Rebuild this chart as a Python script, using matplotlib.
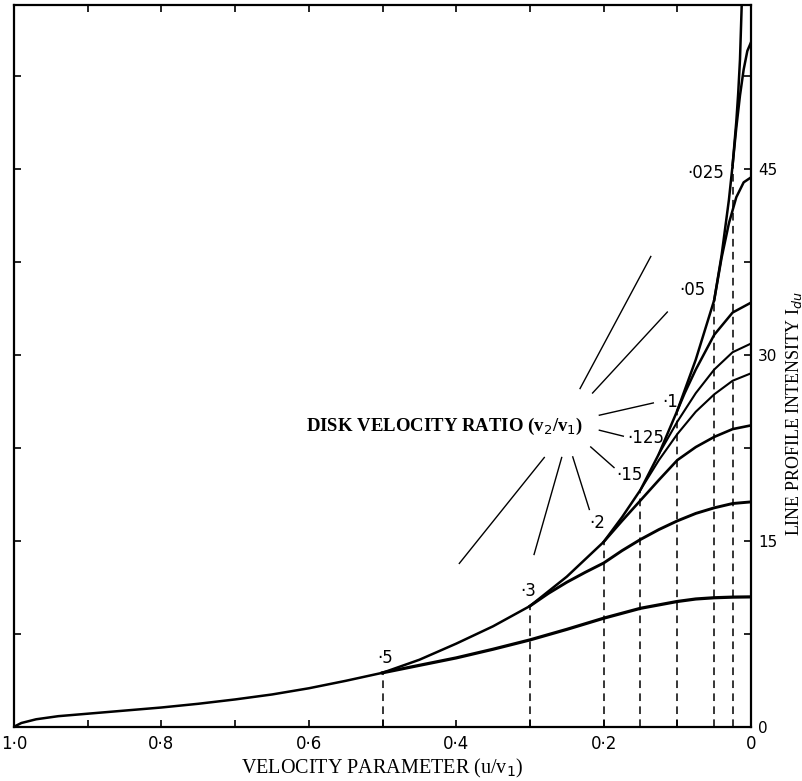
import matplotlib.pyplot as plt
import matplotlib.ticker as ticker

plt.rcParams['font.family'] = 'DejaVu Sans'

# common envelope: intensity vs velocity parameter u/v1
env_u = [1.0, 0.99, 0.97, 0.94, 0.9, 0.85, 0.8, 0.75, 0.7, 0.65, 0.6, 0.55, 0.5,
         0.45, 0.4, 0.35, 0.3, 0.25, 0.2, 0.175, 0.15, 0.125, 0.1, 0.075, 0.05,
         0.04, 0.03, 0.025, 0.02, 0.0175, 0.015, 0.0125]
env_i = [0.0, 0.3, 0.6, 0.85, 1.05, 1.3, 1.55, 1.85, 2.2, 2.6, 3.1, 3.7, 4.35,
         5.4, 6.7, 8.1, 9.73, 12.1, 14.9, 16.9, 19.1, 22.0, 25.5, 29.6, 34.4,
         38.0, 42.5, 45.3, 48.8, 51.0, 53.8, 58.5]

# branches for each disk velocity ratio v2/v1
ratios = [0.5, 0.3, 0.2, 0.15, 0.125, 0.1, 0.05, 0.025]
ratio_text = ['·5', '·3', '·2', '·15', '·125', '·1', '·05', '·025']
branch_u = [
    [0.5, 0.45, 0.4, 0.35, 0.3, 0.25, 0.2, 0.15, 0.1, 0.075, 0.05, 0.025, 0.0],
    [0.3, 0.275, 0.25, 0.225, 0.2, 0.175, 0.15, 0.125, 0.1, 0.075, 0.05, 0.025, 0.0],
    [0.2, 0.175, 0.15, 0.125, 0.1, 0.075, 0.05, 0.025, 0.0],
    [0.15, 0.125, 0.1, 0.075, 0.05, 0.025, 0.0],
    [0.125, 0.1, 0.075, 0.05, 0.025, 0.0],
    [0.1, 0.09, 0.075, 0.05, 0.025, 0.0],
    [0.05, 0.04, 0.03, 0.02, 0.01, 0.0],
    [0.025, 0.02, 0.015, 0.01, 0.005, 0.0],
]
branch_i = [
    [4.35, 4.95, 5.55, 6.25, 7.0, 7.85, 8.75, 9.55, 10.1, 10.3, 10.4, 10.45, 10.47],
    [9.73, 10.75, 11.65, 12.45, 13.2, 14.2, 15.1, 15.9, 16.6, 17.2, 17.65, 18.0, 18.13],
    [14.9, 16.6, 18.25, 19.9, 21.5, 22.55, 23.37, 24.0, 24.3],
    [19.1, 21.5, 23.6, 25.4, 26.8, 27.9, 28.5],
    [22.0, 24.6, 26.9, 28.8, 30.2, 30.9],
    [25.5, 26.9, 28.8, 31.6, 33.4, 34.2],
    [34.4, 37.8, 40.6, 42.7, 43.9, 44.3],
    [45.3, 48.3, 50.9, 53.0, 54.5, 55.2],
]
branch_lw = [2.3, 2.1, 1.9, 1.5, 1.5, 1.8, 1.8, 1.8]
dashed = [True, True, True, True, False, True, True, True]

# where the ratio numbers sit (u/v1, intensity)
label_u = [0.4966, 0.303, 0.209, 0.1655, 0.1425, 0.1092, 0.080, 0.0611]
label_i = [5.54, 10.93, 16.4, 20.28, 23.26, 26.19, 35.19, 44.67]

# leader strokes from the caption
leaders = [
    ((0.232, 27.27), (0.136, 37.92)),
    ((0.215, 26.91), (0.1136, 33.44)),
    ((0.2058, 25.12), (0.1326, 26.11)),
    ((0.2058, 23.91), (0.1733, 23.43)),
    ((0.2175, 22.56), (0.1859, 20.90)),
    ((0.2419, 21.76), (0.2194, 17.52)),
    ((0.2569, 21.71), (0.2944, 13.89)),
    ((0.2805, 21.71), (0.3958, 13.17)),
]

xticks_major = [1.0, 0.8, 0.6, 0.4, 0.2, 0.0]
xtick_text = ['1·0', '0·8', '0·6', '0·4', '0·2', '0']
yticks_right = [0, 15, 30, 45]

fig = plt.figure(figsize=(8.02, 7.81), dpi=100)
ax = fig.add_axes([0.01746, 0.0695, 0.9190, 0.9241])

ax.plot(env_u, env_i, color='black', lw=1.8, solid_capstyle='round')
for k in range(len(ratios)):
    ax.plot(branch_u[k], branch_i[k], color='black', lw=branch_lw[k])
    if dashed[k]:
        ax.plot([ratios[k], ratios[k]], [0, branch_i[k][0]], color='black',
                lw=1.1, linestyle=(0, (5, 3.5)))
    ax.text(label_u[k], label_i[k], ratio_text[k], ha='center', va='center',
            fontsize=12)

for (a, b) in leaders:
    ax.plot([a[0], b[0]], [a[1], b[1]], color='black', lw=1.0)

ax.text(0.2275, 24.25, 'DISK VELOCITY RATIO (v$_2$/v$_1$)', ha='right',
        va='center', fontsize=13.5, fontweight='bold', family='Liberation Serif')

ax.set_xlim(1.0, 0.0)
ax.set_ylim(0, 58.2)

ax.xaxis.set_major_locator(ticker.FixedLocator(xticks_major))
ax.xaxis.set_major_formatter(ticker.FixedFormatter(xtick_text))
ax.xaxis.set_minor_locator(ticker.MultipleLocator(0.1))
ax.yaxis.set_major_locator(ticker.FixedLocator(yticks_right))
ax.yaxis.set_minor_locator(ticker.MultipleLocator(7.5))

ax.tick_params(which='both', direction='in', top=True, right=True,
               left=True, labelleft=False, labelright=True, width=1.2)
ax.tick_params(which='major', length=5, labelsize=12, pad=6)
ax.tick_params(axis='y', which='major', labelsize=11, pad=5)
ax.tick_params(which='minor', length=5)
for s in ax.spines.values():
    s.set_linewidth(1.6)

fig.text(0.477, 0.0155, 'VELOCITY PARAMETER (u/v$_1$)', family='Liberation Serif',
         fontsize=14.5, ha='center', va='center')
fig.text(0.9895, 0.47, 'LINE PROFILE INTENSITY I$_{du}$', family='Liberation Serif',
         fontsize=13, ha='center', va='center', rotation=90)

fig.savefig('out.png', dpi=100)
